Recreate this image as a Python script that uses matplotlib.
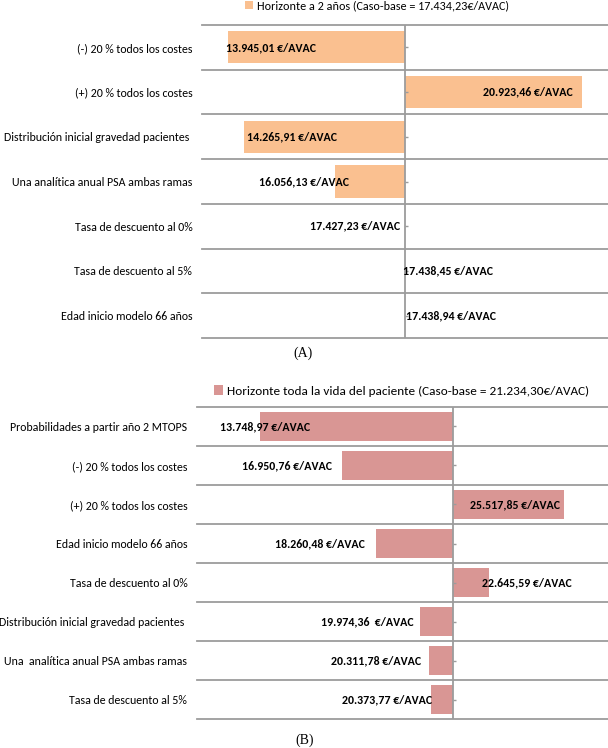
import numpy as np
import matplotlib
matplotlib.use('Agg')
import matplotlib.pyplot as plt

plt.rcParams['font.family'] = ['Carlito', 'Roboto Condensed', 'DejaVu Sans']

# (A) horizonte a 2 años
base_a = 17434.23
cats_a = ['(-) 20 % todos los costes',
          '(+) 20 % todos los costes',
          'Distribución inicial gravedad pacientes ',
          'Una analítica anual PSA ambas ramas',
          'Tasa de descuento al 0%',
          'Tasa de descuento al 5%',
          'Edad inicio modelo 66 años']
vals_a = [13945.01, 20923.46, 14265.91, 16056.13, 17427.23, 17438.45, 17438.94]
labs_a = ['13.945,01 €/AVAC', '20.923,46 €/AVAC', '14.265,91 €/AVAC',
          '16.056,13 €/AVAC', '17.427,23 €/AVAC', '17.438,45 €/AVAC',
          '17.438,94 €/AVAC']
legend_a = 'Horizonte a 2 años (Caso-base = 17.434,23€/AVAC)'

# (B) horizonte toda la vida
base_b = 21234.30
cats_b = ['Probabilidades a partir año 2 MTOPS',
          '(-) 20 % todos los costes',
          '(+) 20 % todos los costes',
          'Edad inicio modelo 66 años',
          'Tasa de descuento al 0%',
          'Distribución inicial gravedad pacientes ',
          'Una  analítica anual PSA ambas ramas',
          'Tasa de descuento al 5%']
vals_b = [13748.97, 16950.76, 25517.85, 18260.48, 22645.59, 19974.36, 20311.78, 20373.77]
labs_b = ['13.748,97 €/AVAC', '16.950,76 €/AVAC', '25.517,85 €/AVAC',
          '18.260,48 €/AVAC', '22.645,59 €/AVAC', '19.974,36  €/AVAC',
          '20.311,78 €/AVAC', '20.373,77 €/AVAC']
legend_b = 'Horizonte toda la vida del paciente (Caso-base = 21.234,30€/AVAC)'

# where each data label sits relative to the bar end (alignment, shift in px)
pos_a = [('left', -2), ('right', -9), ('left', 3), ('right', 14),
         ('right', -5), ('left', -2), ('left', 1)]
pos_b = [('left', -40), ('right', -10), ('right', -4), ('right', -11),
         ('left', -7), ('right', -7), ('right', -8), ('right', 1)]

grey = '#9C9C9C'


def tornado(ax, cats, vals, base, labs, pos, color, legend, xlim, leg_anchor, leg_size):
    n = len(cats)
    y = np.arange(n)
    vals = np.array(vals)
    bars = ax.barh(y, vals - base, left=base, height=0.72, color=color,
                   label=legend, zorder=2)
    ax.set_xlim(*xlim)
    ax.set_ylim(n - 0.5, -0.5)
    for b in np.arange(n + 1) - 0.5:
        ax.axhline(b, color=grey, lw=1.3, clip_on=False, zorder=1)
    ax.axvline(base, color=grey, lw=1.3, zorder=3)
    ax.plot(np.full(n, base), y, ls='none', marker=1, ms=2.5, mew=1,
            color=grey, zorder=3)
    for i, (v, t) in enumerate(zip(vals, labs)):
        ha, dx = pos[i]
        ax.annotate(t, xy=(v, i), xytext=(dx * 0.72, 0), textcoords='offset points',
                    ha=ha, va='center', fontsize=8.6, fontweight='bold', zorder=4)
    ax.set_yticks(y)
    ax.set_yticklabels(cats, fontsize=8.6)
    ax.tick_params(axis='y', length=0, pad=7)
    ax.set_xticks([])
    for s in ax.spines.values():
        s.set_visible(False)
    ax.legend(handles=[bars], loc='center', bbox_to_anchor=leg_anchor,
              frameon=False, fontsize=leg_size, handlelength=0.7,
              handleheight=0.7, handletextpad=0.3, borderpad=0)


fig = plt.figure(figsize=(6.08, 7.48), dpi=100)
W, H = 608, 748

ax1 = fig.add_axes([202 / W, 1 - 338 / H, 406 / W, 313 / H])
tornado(ax1, cats_a, vals_a, base_a, labs_a, pos_a, '#FAC090', legend_a,
        (13432, 21436), (0.43, 1.061), 8.7)

ax2 = fig.add_axes([197 / W, 1 - 719 / H, 411 / W, 312 / H])
tornado(ax2, cats_b, vals_b, base_b, labs_b, pos_b, '#D99694', legend_b,
        (11312, 27242), (0.497, 1.051), 9.5)

fig.text(303 / W, 1 - 353 / H, '(A)', family=['Liberation Serif', 'DejaVu Serif'],
         fontsize=10, ha='center', va='center')
fig.text(305 / W, 1 - 740 / H, '(B)', family=['Liberation Serif', 'DejaVu Serif'],
         fontsize=10, ha='center', va='center')

fig.savefig('out.png', dpi=100)
